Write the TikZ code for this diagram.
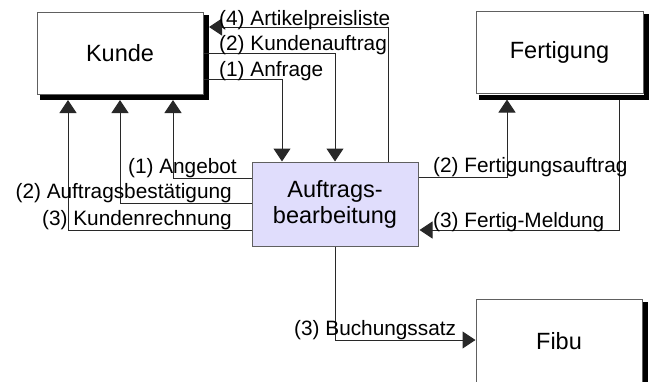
\documentclass[tikz,border=0pt]{standalone}
\usepackage{fontspec}
\setmainfont{Liberation Sans}
\usetikzlibrary{arrows.meta,calc}
\definecolor{boxedge}{RGB}{96,96,96}
\definecolor{wire}{RGB}{40,40,40}
\definecolor{lavender}{RGB}{224,221,252}
\tikzset{
  unit/.style={draw=boxedge, line width=1pt, fill=white, minimum width=166pt,
    minimum height=82pt, inner sep=0pt, font=\fontsize{23.5}{26}\selectfont},
  castshadow/.style={line width=5pt, draw=black, line cap=rect},
  flow/.style={draw=wire, line width=1pt, -{Triangle[length=13pt,width=17pt]}},
  lbl/.style={inner sep=0pt, font=\fontsize{20.8}{24}\selectfont}
}
\begin{document}
\begin{tikzpicture}[x=1pt,y=-1pt]
\useasboundingbox (0,0) rectangle (650,381);

% process blocks
\node[unit] (kunde) at (120,53) {Kunde};
\node[unit, minimum width=167pt] (fert) at (559.5,52.5) {Fertigung};
\node[unit, fill=lavender, minimum height=84pt, align=center] (auft) at (335,204)
  {Auftrags-\\bearbeitung};
\node[unit, minimum height=84pt] (fibu) at (559,341) {Fibu};

% solid shadows along the right and lower edges of the outer blocks
\draw[castshadow] ($(kunde.north east)+(3,5.5)$) -- ($(kunde.south east)+(3,3)$)
  -- ($(kunde.south west)+(5.5,3)$);
\draw[castshadow] ($(fert.north east)+(3,5.5)$) -- ($(fert.south east)+(3,3)$)
  -- ($(fert.south west)+(5.5,3)$);
\draw[castshadow] ($(fibu.north east)+(3,5.5)$) -- ($(fibu.south east)+(3,3)$);

% bend points of the connectors
\coordinate (anf) at (282,79);
\coordinate (apl) at (388,27);
\coordinate (ang) at (173,178);
\coordinate (abs) at (120,203);
\coordinate (kre) at (68,230);
\coordinate (fau) at (507,177);
\coordinate (fme) at (619,230);
\coordinate (bsa) at (335,340);

% customer <-> order processing
\draw[flow] (kunde.east |- anf) -| (auft.north -| anf);
\draw[flow] (kunde.east) -| (auft.north);
\draw[flow] (auft.north -| apl) |- ($(kunde.east |- apl)+(5.5,0)$);
\draw[flow] (auft.west |- ang) -| ($(kunde.south -| ang)+(0,5.5)$);
\draw[flow] (auft.west |- abs) -| ($(kunde.south -| abs)+(0,5.5)$);
\draw[flow] (auft.west |- kre) -| ($(kunde.south -| kre)+(0,5.5)$);

% production and accounting
\draw[flow] (auft.east |- fau) -| ($(fert.south -| fau)+(0,5.5)$);
\draw[flow] ($(fert.south -| fme)+(0,5.5)$) |- ($(auft.east |- fme)+(1,0)$);
\draw[flow] (auft.south) |- (fibu.west |- bsa);

% flow labels
\node[lbl, anchor=base west] (t1) at (219,25) {(4) Artikelpreisliste};
\node[lbl, anchor=base west] (t2) at (219,50) {(2) Kundenauftrag};
\node[lbl, anchor=base west] (t3) at (219,76) {(1) Anfrage};
\node[lbl, anchor=base east] (t4) at (237,173) {(1) Angebot};
\node[lbl, anchor=base east] (t5) at (232,198) {(2) Auftragsbestätigung};
\node[lbl, anchor=base east] (t6) at (232,225) {(3) Kundenrechnung};
\node[lbl, anchor=base west] (t7) at (433,172) {(2) Fertigungsauftrag};
\node[lbl, anchor=base west] (t8) at (433,227) {(3) Fertig-Meldung};
\node[lbl, anchor=base west] (t9) at (294,335) {(3) Buchungssatz};
\end{tikzpicture}
\end{document}
